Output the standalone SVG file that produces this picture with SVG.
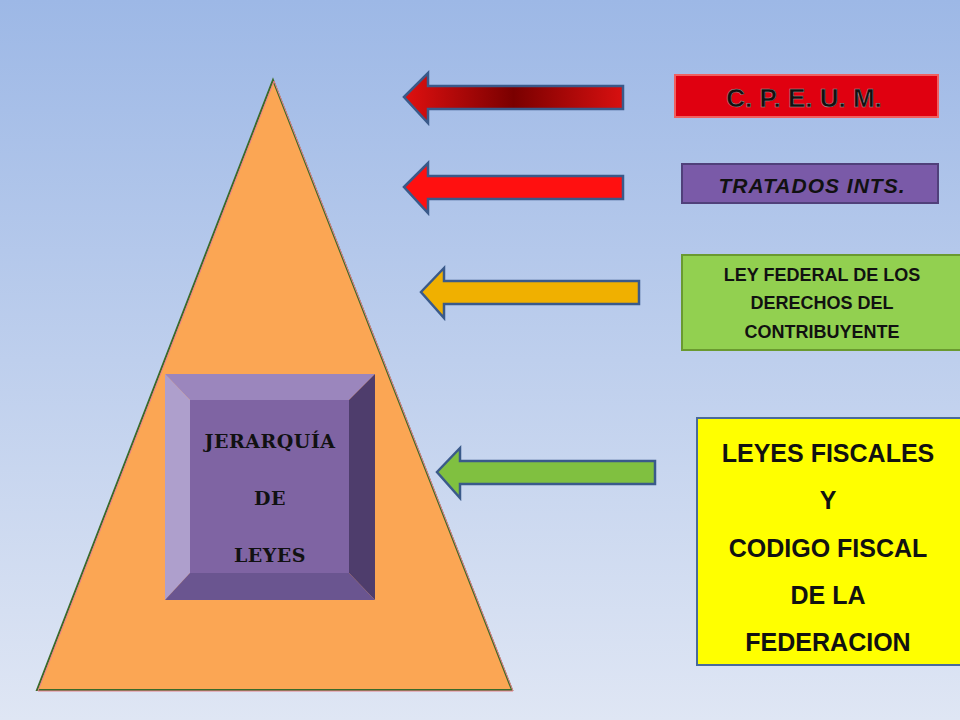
<svg xmlns="http://www.w3.org/2000/svg" width="960" height="720" viewBox="0 0 960 720">
<defs>
<linearGradient id="bg" x1="0" y1="0" x2="0" y2="1"><stop offset="0" stop-color="#9db8e6"/><stop offset="1" stop-color="#dfe6f4"/></linearGradient>
<linearGradient id="a1" x1="0" y1="0" x2="1" y2="0"><stop offset="0" stop-color="#e01010"/><stop offset="0.5" stop-color="#7a0000"/><stop offset="1" stop-color="#d81010"/></linearGradient>
<style>
.arr{stroke:#3a5a8a;stroke-width:2.5}
.t{font-family:"Liberation Sans",Arial,sans-serif;font-weight:bold;fill:#111;text-anchor:middle}
.j{font-family:"DejaVu Serif",serif;font-weight:bold;fill:#111;text-anchor:middle;font-size:19px;letter-spacing:0.5px}
</style>
</defs>
<rect width="960" height="720" fill="url(#bg)"/>
<g id="piramide">
<polygon points="273,80 512,690 37,690" fill="#fba654" stroke="#3a6a2a" stroke-width="2"/>
<polygon points="273,80 512,690 37,690" fill="none" stroke="#e8808a" stroke-width="1" transform="translate(1,1)"/>
</g>
<g id="jerarquia">
<polygon points="165,374 375,374 349,400 190,400" fill="#9b86bd"/>
<polygon points="165,374 190,400 190,573 165,600" fill="#ae9fcc"/>
<polygon points="375,374 375,600 349,573 349,400" fill="#4e3d6c"/>
<polygon points="165,600 190,573 349,573 375,600" fill="#6a5590"/>
<rect x="190" y="400" width="159" height="173" fill="#7f64a3"/>
<text class="j" x="270" y="448">JERARQUÍA</text>
<text class="j" x="270" y="505">DE</text>
<text class="j" x="270" y="562" font-size="22">LEYES</text>
</g>
<g id="conectores">
<polygon class="arr" points="404,97 428,73 428,86 623,86 623,109 428,109 428,123" fill="url(#a1)"/>
<polygon class="arr" points="404,187 428,163 428,176 623,176 623,199 428,199 428,213" fill="#ff1010"/>
<polygon class="arr" points="421,292 444,268 444,281 639,281 639,304 444,304 444,318" fill="#f0b000"/>
<polygon class="arr" points="437,472 460,448 460,461 655,461 655,484 460,484 460,498" fill="#80c040"/>
</g>
<g id="cpeum">
<rect x="675" y="75" width="263" height="42" fill="#e00010" stroke="#f06060" stroke-width="2"/>
<text class="t" x="804" y="107" font-size="26" fill="#222" stroke="#999" stroke-width="0.5" font-weight="normal">C. P. E. U. M.</text>
</g>
<g id="tratados">
<rect x="682" y="164" width="256" height="39" fill="#7a5aa8" stroke="#50407a" stroke-width="2"/>
<text class="t" x="812" y="193" font-size="21" font-style="italic" letter-spacing="1">TRATADOS INTS.</text>
</g>
<g id="ley-federal">
<rect x="682" y="255" width="280" height="95" fill="#92d050" stroke="#6a9a30" stroke-width="2"/>
<text class="t" x="822" y="281" font-size="18">LEY FEDERAL DE LOS</text>
<text class="t" x="822" y="309" font-size="18">DERECHOS DEL</text>
<text class="t" x="822" y="338" font-size="18">CONTRIBUYENTE</text>
</g>
<g id="leyes-fiscales">
<rect x="697" y="418" width="265" height="247" fill="#ffff00" stroke="#4a6a9a" stroke-width="2"/>
<text class="t" x="828" y="462" font-size="25">LEYES FISCALES</text>
<text class="t" x="828" y="509" font-size="25">Y</text>
<text class="t" x="828" y="557" font-size="25">CODIGO FISCAL</text>
<text class="t" x="828" y="604" font-size="25">DE LA</text>
<text class="t" x="828" y="651" font-size="25">FEDERACION</text>
</g>
</svg>
